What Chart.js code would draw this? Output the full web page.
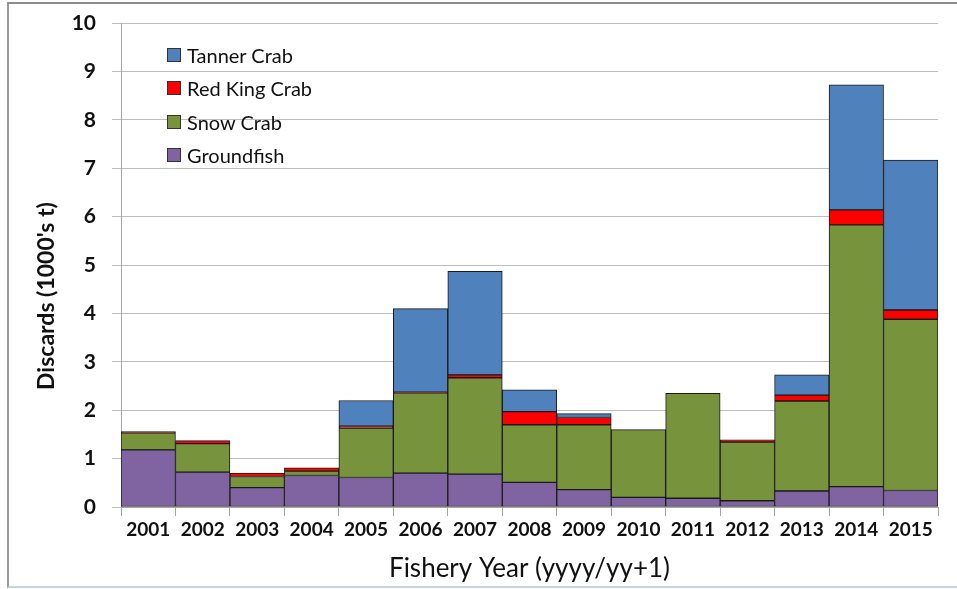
<!DOCTYPE html>
<html>
<head>
<meta charset="utf-8">
<script src="https://cdn.jsdelivr.net/npm/chart.js@4.4.0/dist/chart.umd.min.js"></script>
<style>
    body { margin: 0; background: #fff; }
    #wrap { position: relative; width: 957px; height: 589px; }
    #wrap canvas { display: block; }
    #frame { position: absolute; left: 7px; top: 2px; width: 950px; height: 586px; border-top: 2px solid #8c8c8c; border-left: 2px solid #9a9a9a; border-bottom: 2px solid #c4d6de; box-sizing: border-box; pointer-events: none; }
    #legend { position: absolute; left: 167px; top: 38px; font-family: Lato, sans-serif; font-size: 20px; color: #111; }
    #legend div { height: 33.5px; display: flex; align-items: center; }
    #legend span.box { display: inline-block; width: 12px; height: 12px; border: 1px solid #333; margin-right: 6px; }
    #ytitle { position: absolute; left: 45px; top: 296px; transform: translate(-50%, -50%) rotate(-90deg); white-space: nowrap; font-family: Lato, sans-serif; font-size: 23px; font-weight: bold; color: #111; }
</style>
</head>
<body>
<div id="wrap">
    <canvas id="chart1" width="957" height="589"></canvas>
    <div id="legend"></div>
    <div id="ytitle">Discards (1000's t)</div>
    <div id="frame"></div>
</div>
<script>
// Fishery years and discards (1000's t) per stock
const years = ['2001', '2002', '2003', '2004', '2005', '2006', '2007', '2008', '2009', '2010', '2011', '2012', '2013', '2014', '2015'];
const groundfish = [1.18, 0.72, 0.40, 0.65, 0.61, 0.70, 0.68, 0.51, 0.36, 0.20, 0.18, 0.13, 0.33, 0.42, 0.34];
const snowCrab = [0.35, 0.59, 0.23, 0.09, 1.02, 1.66, 1.99, 1.19, 1.34, 1.40, 2.17, 1.21, 1.86, 5.41, 3.54];
const redKingCrab = [0.03, 0.06, 0.07, 0.07, 0.04, 0.01, 0.06, 0.27, 0.15, 0, 0, 0.05, 0.12, 0.31, 0.19];
const tannerCrab = [0, 0, 0, 0, 0.53, 1.73, 2.14, 0.45, 0.08, 0, 0, 0, 0.42, 2.58, 3.10];

const series = [
    { label: 'Groundfish', data: groundfish, color: '#8064A2' },
    { label: 'Snow Crab', data: snowCrab, color: '#77933C' },
    { label: 'Red King Crab', data: redKingCrab, color: '#FF0000' },
    { label: 'Tanner Crab', data: tannerCrab, color: '#4F81BD' }
];

// legend inside the plot, top series first
const legendDiv = document.getElementById('legend');
series.slice().reverse().forEach(s => {
    const row = document.createElement('div');
    row.innerHTML = '<span class="box" style="background:' + s.color + '"></span>' + s.label;
    legendDiv.appendChild(row);
});

const ctx1 = document.getElementById('chart1').getContext('2d');
const chart1 = new Chart(ctx1, {
    type: 'bar',
    data: {
        labels: years,
        datasets: series.map(s => ({
            label: s.label,
            data: s.data,
            backgroundColor: s.color,
            borderColor: '#1a1a1a',
            borderWidth: 1,
            borderSkipped: false,
            barPercentage: 1,
            categoryPercentage: 1
        }))
    },
    options: {
        responsive: false,
        animation: false,
        layout: { padding: { top: 23, right: 19, left: 10, bottom: 4 } },
        plugins: {
            legend: { display: false },
            tooltip: { enabled: false }
        },
        scales: {
            x: {
                stacked: true,
                afterFit: s => { s.height = 78; s.paddingLeft = 0; s.paddingRight = 0; },
                grid: { offset: true, drawOnChartArea: false, color: '#a6a6a6', tickLength: 9 },
                border: { color: '#a6a6a6' },
                ticks: { color: '#111', font: { family: 'Lato', size: 19, weight: 'bold' }, padding: 2 },
                title: { display: true, text: 'Fishery Year (yyyy/yy+1)', color: '#111', font: { family: 'Lato', size: 26 }, padding: { top: 0, bottom: 1 } }
            },
            y: {
                stacked: true,
                min: 0,
                max: 10,
                afterFit: s => { s.width = 111; s.paddingTop = 0; s.paddingBottom = 0; },
                grid: { color: '#bdbdbd', tickLength: 9 },
                border: { color: '#a6a6a6' },
                ticks: { stepSize: 1, color: '#111', font: { family: 'Lato', size: 21, weight: 'bold' }, padding: 16 },
                title: { display: false }
            }
        }
    }
});
</script>
</body>
</html>
